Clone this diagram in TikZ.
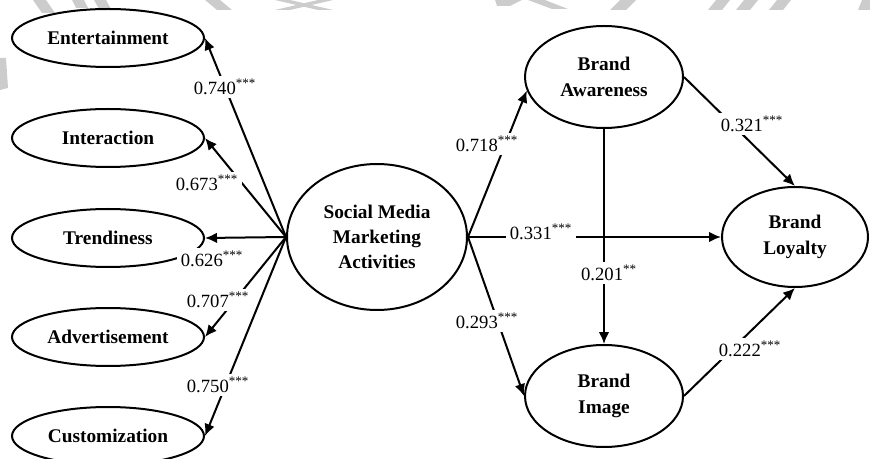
\documentclass[tikz,border=0pt]{standalone}
\usepackage{fontspec}
\setmainfont{Liberation Serif}
\usetikzlibrary{shapes.geometric,arrows.meta}
\begin{document}
\begin{tikzpicture}[x=0.75pt,y=-0.75pt,
  lat/.style={ellipse,draw,line width=1.5pt,font=\fontsize{14.5}{19}\selectfont\bfseries,align=center,inner sep=0pt},
  ind/.style={lat,minimum width=144pt,minimum height=43.5pt},
  brand/.style={lat,minimum width=118.5pt,minimum height=76.5pt},
  conn/.style={line width=1.5pt,-{Latex[length=9pt,width=8pt]}},
  coef/.style={fill=white,inner xsep=3pt,inner ysep=2pt,font=\fontsize{14}{16}\selectfont},
  wm/.style={fill=black!20,draw=none}
]
\useasboundingbox (0,0) rectangle (870,459);
% faint watermark fragments
\fill[wm] (33,0) -- (46,0) -- (55,13) -- (42,13) -- cycle;
\fill[wm] (72,0) -- (84,0) -- (88,8) -- (76,8) -- cycle;
\fill[wm] (94,0) -- (106,0) -- (111,9) -- (99,9) -- cycle;
\fill[wm] (205,0) -- (220,0) -- (232,10) -- (217,10) -- cycle;
\fill[wm] (275,0) -- (290,0) -- (333,10) -- (318,10) -- cycle;
\fill[wm] (318,0) -- (333,0) -- (290,10) -- (275,10) -- cycle;
\fill[wm] (495,0) -- (522,0) -- (510,6) -- (497,6) -- cycle;
\fill[wm] (528,0) -- (545,0) -- (568,9) -- (552,9) -- cycle;
\fill[wm] (620,0) -- (636,0) -- (626,10) -- (610,10) -- cycle;
\fill[wm] (716,0) -- (730,0) -- (722,10) -- (708,10) -- cycle;
\fill[wm] (744,0) -- (758,0) -- (750,10) -- (736,10) -- cycle;
\fill[wm] (777,0) -- (791,0) -- (783,10) -- (769,10) -- cycle;
\fill[wm] (862,0) -- (870,0) -- (870,10) -- (858,10) -- cycle;
\fill[wm] (0,58) -- (6,58) -- (8,88) -- (0,90) -- cycle;

% indicator constructs
\node[ind] (ent) at (108,38) {Entertainment};
\node[ind] (int) at (108,138) {Interaction};
\node[ind] (tre) at (108,238) {Trendiness};
\node[ind] (adv) at (108,337) {Advertisement};
\node[ind] (cus) at (108,436) {Customization};

% main constructs
\node[lat,minimum width=135pt,minimum height=109.5pt] (smma) at (377,237) {Social Media\\Marketing\\Activities};
\node[brand] (ba) at (604,77) {Brand\\Awareness};
\node[brand] (bi) at (604,396) {Brand\\Image};
\node[lat,minimum width=109.5pt,minimum height=75pt] (bl) at (795,237) {Brand\\Loyalty};

% connectors
\draw[conn] (smma.west) -- (ent.east);
\draw[conn] (smma.west) -- (int.east);
\draw[conn] (smma.west) -- (tre.east);
\draw[conn] (smma.west) -- (adv.east);
\draw[conn] (smma.west) -- (cus.east);
\draw[conn] (smma.east) -- (ba.190);
\draw[conn] (smma.east) -- (bl.west);
\draw[conn] (smma.east) -- (bi.west);
\draw[conn] (ba.east) -- (bl.north);
\draw[conn] (ba.south) -- (bi.north);
\draw[conn] (bi.east) -- (bl.south);

% coefficients
\node[coef] (c1) at (225,87) {0.740\textsuperscript{***}};
\node[coef] (c2) at (207,183) {0.673\textsuperscript{***}};
\node[coef] (c3) at (212,259) {0.626\textsuperscript{***}};
\node[coef] (c4) at (218,300) {0.707\textsuperscript{***}};
\node[coef] (c5) at (218,385) {0.750\textsuperscript{***}};
\node[coef] (c6) at (487,144) {0.718\textsuperscript{***}};
\node[coef] (c7) at (541,232) {0.331\textsuperscript{***}};
\node[coef] (c8) at (487,321) {0.293\textsuperscript{***}};
\node[coef] (c9) at (609,273) {0.201\textsuperscript{**}};
\node[coef] (c10) at (752,124) {0.321\textsuperscript{***}};
\node[coef] (c11) at (750,349) {0.222\textsuperscript{***}};
\end{tikzpicture}
\end{document}
